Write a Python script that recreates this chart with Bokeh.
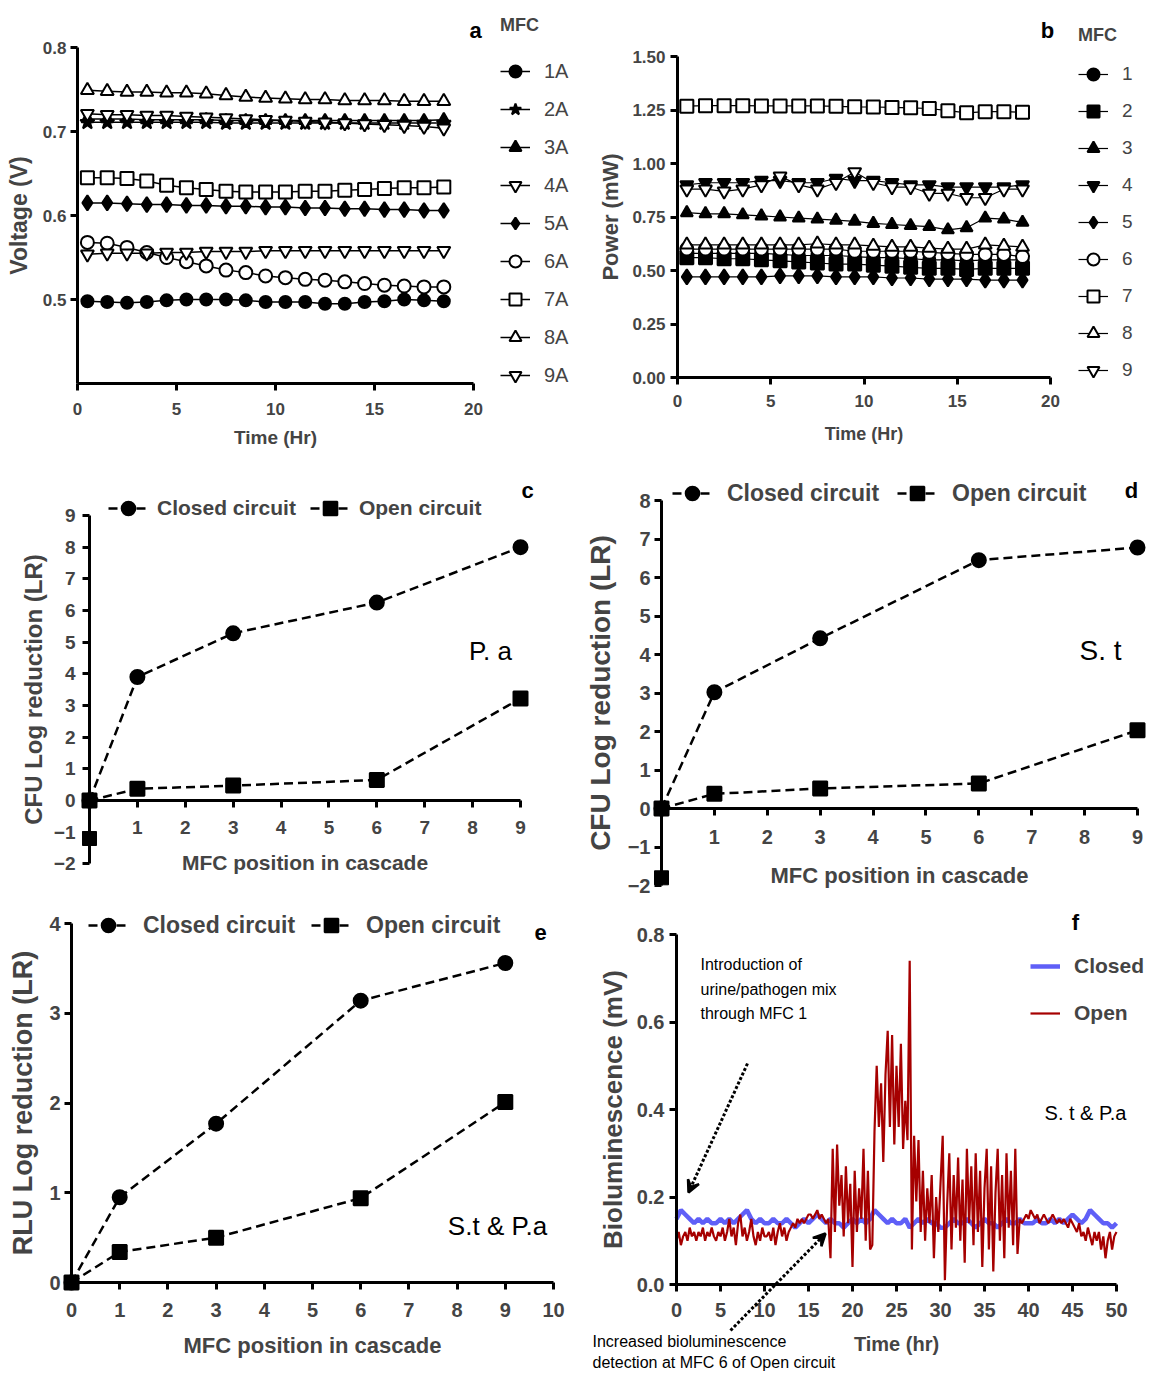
from bokeh.plotting import figure
from bokeh.layouts import column, row
from bokeh.models import (Legend, LegendItem, Label, Arrow, VeeHead, FixedTicker,
                          Range1d, NumeralTickFormatter)
from bokeh.embed import file_html
from bokeh.resources import INLINE

FONT = "Liberation Sans"

# ---------------- data: panel a (voltage) ----------------
time_a = [0.5, 1.5, 2.5, 3.5, 4.5, 5.5, 6.5, 7.5, 8.5, 9.5, 10.5, 11.5, 12.5, 13.5, 14.5, 15.5, 16.5, 17.5, 18.5]
v_1A = [0.498, 0.497, 0.496, 0.497, 0.499, 0.500, 0.500, 0.500, 0.499, 0.497, 0.497, 0.497, 0.495, 0.495, 0.497, 0.498, 0.500, 0.499, 0.498]
v_2A = [0.711, 0.711, 0.711, 0.711, 0.711, 0.711, 0.711, 0.710, 0.710, 0.710, 0.710, 0.710, 0.710, 0.710, 0.710, 0.710, 0.710, 0.710, 0.710]
v_3A = [0.715, 0.715, 0.715, 0.714, 0.714, 0.714, 0.714, 0.713, 0.713, 0.713, 0.713, 0.713, 0.713, 0.713, 0.713, 0.713, 0.713, 0.713, 0.714]
v_4A = [0.721, 0.720, 0.720, 0.719, 0.719, 0.718, 0.717, 0.716, 0.715, 0.714, 0.713, 0.712, 0.711, 0.710, 0.709, 0.708, 0.707, 0.706, 0.704]
v_5A = [0.615, 0.615, 0.614, 0.613, 0.613, 0.612, 0.612, 0.611, 0.611, 0.610, 0.610, 0.609, 0.609, 0.608, 0.608, 0.607, 0.607, 0.606, 0.606]
v_6A = [0.568, 0.567, 0.562, 0.556, 0.550, 0.545, 0.540, 0.535, 0.532, 0.528, 0.526, 0.524, 0.523, 0.521, 0.519, 0.517, 0.516, 0.515, 0.515]
v_7A = [0.645, 0.645, 0.644, 0.641, 0.636, 0.633, 0.631, 0.629, 0.628, 0.628, 0.628, 0.629, 0.629, 0.630, 0.631, 0.632, 0.633, 0.633, 0.634]
v_8A = [0.749, 0.748, 0.747, 0.747, 0.746, 0.746, 0.745, 0.743, 0.741, 0.740, 0.739, 0.738, 0.738, 0.737, 0.737, 0.737, 0.736, 0.736, 0.736]
v_9A = [0.554, 0.555, 0.555, 0.555, 0.556, 0.556, 0.557, 0.557, 0.557, 0.558, 0.558, 0.558, 0.558, 0.558, 0.558, 0.558, 0.558, 0.558, 0.558]
labels_a = ["1A", "2A", "3A", "4A", "5A", "6A", "7A", "8A", "9A"]

# ---------------- data: panel b (power) ----------------
time_b = time_a
p_1 = [0.58, 0.58, 0.58, 0.58, 0.58, 0.575, 0.57, 0.57, 0.57, 0.565, 0.56, 0.56, 0.555, 0.55, 0.55, 0.545, 0.55, 0.55, 0.55]
p_2 = [0.56, 0.56, 0.555, 0.555, 0.55, 0.545, 0.54, 0.535, 0.53, 0.53, 0.525, 0.52, 0.515, 0.51, 0.51, 0.505, 0.51, 0.51, 0.51]
p_3 = [0.77, 0.765, 0.765, 0.76, 0.755, 0.75, 0.745, 0.74, 0.735, 0.73, 0.72, 0.715, 0.71, 0.705, 0.69, 0.70, 0.745, 0.74, 0.725]
p_4 = [0.90, 0.91, 0.91, 0.91, 0.92, 0.92, 0.91, 0.91, 0.93, 0.92, 0.92, 0.91, 0.90, 0.90, 0.89, 0.89, 0.89, 0.89, 0.90]
p_5 = [0.47, 0.47, 0.47, 0.47, 0.47, 0.475, 0.475, 0.475, 0.47, 0.47, 0.47, 0.465, 0.465, 0.46, 0.46, 0.46, 0.455, 0.455, 0.455]
p_6 = [0.60, 0.60, 0.60, 0.60, 0.60, 0.60, 0.60, 0.60, 0.60, 0.59, 0.59, 0.59, 0.59, 0.585, 0.58, 0.575, 0.575, 0.575, 0.565]
p_7 = [1.268, 1.270, 1.270, 1.270, 1.269, 1.269, 1.269, 1.269, 1.267, 1.265, 1.264, 1.262, 1.260, 1.257, 1.247, 1.237, 1.242, 1.242, 1.240]
p_8 = [0.62, 0.62, 0.62, 0.62, 0.62, 0.62, 0.62, 0.625, 0.62, 0.62, 0.615, 0.61, 0.61, 0.605, 0.60, 0.60, 0.62, 0.615, 0.61]
p_9 = [0.88, 0.88, 0.87, 0.88, 0.90, 0.94, 0.90, 0.88, 0.91, 0.96, 0.91, 0.89, 0.89, 0.86, 0.86, 0.84, 0.84, 0.88, 0.88]
labels_b = ["1", "2", "3", "4", "5", "6", "7", "8", "9"]

# ---------------- data: panels c, d, e ----------------
mfc_pos = [0, 1, 3, 6, 9]
c_closed = [0, 3.9, 5.28, 6.25, 8.0]
c_open = [0, 0.37, 0.47, 0.65, 3.22]
c_open_extra_x = [0]
c_open_extra_y = [-1.2]
d_closed = [0, 3.02, 4.42, 6.45, 6.78]
d_open = [0, 0.38, 0.52, 0.65, 2.03]
d_open_extra_x = [0]
d_open_extra_y = [-1.8]
e_closed = [0, 0.95, 1.77, 3.14, 3.56]
e_open = [0, 0.34, 0.50, 0.94, 2.01]
legend_cde = ["Closed circuit", "Open circuit"]

# ---------------- data: panel f (bioluminescence) ----------------
f_closed = [0.15, 0.17, 0.16, 0.15, 0.14, 0.15, 0.14, 0.15, 0.14, 0.14, 0.15, 0.14, 0.15, 0.14, 0.15, 0.16, 0.17, 0.15, 0.14, 0.15, 0.14,
            0.14, 0.15, 0.14, 0.14, 0.15, 0.14, 0.13, 0.14, 0.15, 0.14, 0.15, 0.16, 0.15, 0.14, 0.15, 0.14, 0.14, 0.13, 0.14, 0.15,
            0.14, 0.15, 0.14, 0.15, 0.17, 0.16, 0.15, 0.14, 0.15, 0.14, 0.14, 0.15, 0.13, 0.14, 0.15, 0.14, 0.15, 0.14, 0.14, 0.13,
            0.13, 0.14, 0.15, 0.14, 0.14, 0.15, 0.14, 0.13, 0.14, 0.15, 0.14, 0.14, 0.13, 0.14, 0.15, 0.14, 0.14, 0.15, 0.14, 0.14,
            0.14, 0.15, 0.14, 0.14, 0.15, 0.14, 0.15, 0.14, 0.15, 0.16, 0.15, 0.14, 0.15, 0.17, 0.16, 0.15, 0.14, 0.14, 0.13, 0.14]
f_open = [0.10, 0.12, 0.09, 0.11, 0.12, 0.10, 0.13, 0.11, 0.12, 0.10, 0.12, 0.11, 0.13, 0.10, 0.12, 0.11, 0.13, 0.11, 0.10, 0.12, 0.11,
          0.13, 0.10, 0.12, 0.15, 0.11, 0.13, 0.09, 0.14, 0.16, 0.11, 0.13, 0.10, 0.12, 0.15, 0.11, 0.09, 0.12, 0.10, 0.13, 0.11,
          0.11, 0.12, 0.10, 0.13, 0.09, 0.12, 0.14, 0.11, 0.13, 0.10, 0.12, 0.13, 0.14, 0.13, 0.15, 0.14, 0.15, 0.14, 0.15, 0.16,
          0.16, 0.15, 0.16, 0.17, 0.15, 0.16, 0.15, 0.14, 0.15, 0.06,
          0.31, 0.12, 0.32, 0.18, 0.25, 0.11, 0.27, 0.14, 0.23, 0.04, 0.26, 0.12, 0.22, 0.15, 0.31, 0.10, 0.26, 0.08,
          0.09, 0.35, 0.50, 0.36, 0.46, 0.28, 0.48, 0.58, 0.36, 0.57, 0.32, 0.50, 0.36, 0.55, 0.31, 0.42, 0.33, 0.74, 0.08, 0.34,
          0.19, 0.33, 0.12, 0.26,
          0.10, 0.22, 0.14, 0.25, 0.06, 0.20, 0.12, 0.23, 0.34, 0.01, 0.18, 0.30, 0.08, 0.25, 0.13, 0.29, 0.10, 0.24, 0.05, 0.31,
          0.14, 0.27, 0.09, 0.30, 0.12, 0.26, 0.04, 0.22, 0.31, 0.08, 0.27, 0.03, 0.21, 0.31, 0.10, 0.25, 0.06, 0.30, 0.13, 0.26,
          0.09, 0.31, 0.07, 0.15,
          0.14, 0.15, 0.16, 0.15, 0.17, 0.16, 0.15, 0.16, 0.14, 0.15, 0.16, 0.15, 0.14, 0.15, 0.16, 0.15, 0.14, 0.15, 0.14, 0.15,
          0.14, 0.13, 0.15, 0.14,
          0.13, 0.12, 0.14, 0.11, 0.12, 0.10, 0.13, 0.11, 0.09, 0.12, 0.10, 0.12, 0.08, 0.11, 0.06, 0.10, 0.12, 0.08, 0.11, 0.12]
f_time_closed = [i * 0.5 for i in range(len(f_closed))]
f_time_open = [i * 0.25 for i in range(len(f_open))]


class Panel:
    """A figure whose frame fills the whole canvas; data<->page pixel mapping from two anchors per axis."""
    def __init__(self, w, h, ox, oy, xa, ya):
        self.w, self.h, self.ox, self.oy = w, h, ox, oy
        xv1, xp1, xv2, xp2 = xa
        yv1, yp1, yv2, yp2 = ya
        self.sx = (xp2 - xp1) / (xv2 - xv1)
        self.sy = (yp2 - yp1) / (yv2 - yv1)
        self.xv1, self.xp1, self.yv1, self.yp1 = xv1, xp1, yv1, yp1
        xr = Range1d(self.dx(ox), self.dx(ox + w))
        yr = Range1d(self.dy(oy + h), self.dy(oy))
        self.p = figure(width=w, height=h, x_range=xr, y_range=yr, output_backend="svg",
                        toolbar_location=None, min_border_left=0, min_border_right=0,
                        min_border_top=0, min_border_bottom=0)
        self.p.grid.visible = False
        self.p.outline_line_color = None

    def dx(self, px):
        return self.xv1 + (px - self.xp1) / self.sx

    def dy(self, py):
        return self.yv1 + (py - self.yp1) / self.sy

    def loc(self, left_px, bottom_px):
        return (left_px - self.ox, self.oy + self.h - bottom_px)

    def label(self, px, py, text, size="22px", style="bold", align="center"):
        self.p.add_layout(Label(x=self.dx(px), y=self.dy(py), text=text, text_font=FONT,
                                text_font_size=size, text_font_style=style, text_align=align,
                                text_baseline="middle", text_color="black"))


def style_axis(ax, ticks, bounds, loc, tick_size, title_size, label_standoff, title_standoff, fmt=None):
    ax.ticker = FixedTicker(ticks=ticks)
    ax.bounds = bounds
    ax.fixed_location = loc
    ax.axis_line_width = 3
    ax.major_tick_line_width = 3
    ax.major_tick_out = 7
    ax.major_tick_in = 0
    ax.minor_tick_line_color = None
    ax.major_label_text_font = FONT
    ax.major_label_text_font_style = "bold"
    ax.major_label_text_font_size = f"{tick_size}px"
    ax.major_label_standoff = label_standoff
    ax.axis_label_text_font = FONT
    ax.axis_label_text_font_style = "bold"
    ax.axis_label_text_font_size = f"{title_size}px"
    ax.axis_label_standoff = title_standoff
    if fmt:
        ax.formatter = NumeralTickFormatter(format=fmt)


def series(p, x, y, marker, fill, size, dash="solid", lw=1.5, mlw=2):
    r1 = p.line(x, y, line_color="black", line_width=lw, line_dash=dash)
    r2 = p.scatter(x, y, marker=marker, size=size, fill_color=fill, line_color="black", line_width=mlw)
    return [r1, r2]


marker_specs = [("circle", "black", 12), ("star", "black", 15), ("triangle", "black", 12),
                ("inverted_triangle", "white", 13), ("diamond", "black", 15), ("circle", "white", 13),
                ("square", "white", 13), ("triangle", "white", 13), ("inverted_triangle", "white", 13)]


def mfc_legend(items, loc, title_standoff, spacing, label_size):
    return Legend(items=items, location=loc, title="MFC", title_text_font=FONT,
                  title_text_font_style="bold", title_text_font_size="18px",
                  title_standoff=title_standoff, glyph_width=30, glyph_height=30, label_height=30,
                  spacing=spacing, padding=0, margin=0, label_standoff=14, label_text_font=FONT,
                  label_text_font_size=label_size, border_line_color=None, background_fill_alpha=0)


W_L, W_R = 578, 570
H1, H2, H3 = 460, 436, 476

# ---------------- panel a ----------------
A = Panel(W_L, H1, 0, 0, (0, 77, 20, 473), (0.8, 47, 0.5, 299))
pa = A.p
style_axis(pa.xaxis[0], [0, 5, 10, 15, 20], (0, 20), 0.4, 17, 19, 12, 9)
style_axis(pa.yaxis[0], [0.5, 0.6, 0.7, 0.8], (0.4, 0.8), 0, 17, 23, 4, 8, fmt="0.0")
pa.xaxis.axis_label = "Time (Hr)"
pa.yaxis.axis_label = "Voltage (V)"
items = []
for lab, vals, (mk, fill, sz) in zip(labels_a, [v_1A, v_2A, v_3A, v_4A, v_5A, v_6A, v_7A, v_8A, v_9A], marker_specs):
    items.append(LegendItem(label=lab, renderers=series(pa, time_a, vals, mk, fill, sz)))
pa.add_layout(mfc_legend(items, A.loc(500, 390), 20, 8, "20px"))
A.label(475, 30, "a")

# ---------------- panel b ----------------
B = Panel(W_R, H1, W_L, 0, (0, 677, 20, 1050), (1.5, 56, 0, 377))
pb = B.p
style_axis(pb.xaxis[0], [0, 5, 10, 15, 20], (0, 20), 0, 17, 18, 10, 14)
style_axis(pb.yaxis[0], [0, 0.25, 0.5, 0.75, 1.0, 1.25, 1.5], (0, 1.5), 0, 17, 22, 5, 6, fmt="0.00")
pb.xaxis.axis_label = "Time (Hr)"
pb.yaxis.axis_label = "Power (mW)"
items = []
for lab, vals, (mk, fill, sz) in zip(labels_b, [p_1, p_2, p_3, p_4, p_5, p_6, p_7, p_8, p_9], marker_specs):
    if mk == "star":
        mk, sz = "square", 13
    if lab == "4":
        fill = "black"
    items.append(LegendItem(label=lab, renderers=series(pb, time_b, vals, mk, fill, sz, lw=1.2)))
pb.add_layout(mfc_legend(items, B.loc(1078, 385), 13, 7, "19px"))
B.label(1047, 30, "b")


def cascade_panel(P, xticks, yticks, xb, yb, closed, opened, extra, tick_size, xtitle_size,
                  ytitle_size, stand, leg_loc, leg_size, leg_standoff, leg_spacing, ylabel):
    p = P.p
    style_axis(p.xaxis[0], xticks, xb, 0, tick_size, xtitle_size, stand[0], stand[1])
    style_axis(p.yaxis[0], yticks, yb, 0, tick_size, ytitle_size, stand[2], stand[3])
    p.xaxis.axis_label = "MFC position in cascade"
    p.yaxis.axis_label = ylabel
    rc = series(p, mfc_pos, closed, "circle", "black", 14, dash="9 5", lw=2.5)
    ro = series(p, mfc_pos, opened, "square", "black", 14, dash="9 5", lw=2.5)
    if extra is not None:
        p.scatter(extra[0], extra[1], marker="square", size=14, fill_color="black", line_color="black")
    leg = Legend(items=[LegendItem(label=legend_cde[0], renderers=rc),
                        LegendItem(label=legend_cde[1], renderers=ro)],
                 location=leg_loc, orientation="horizontal", glyph_width=40, glyph_height=34,
                 label_height=34, spacing=leg_spacing, padding=0, margin=0, label_standoff=leg_standoff,
                 label_text_font=FONT, label_text_font_style="bold", label_text_font_size=leg_size,
                 border_line_color=None, background_fill_alpha=0)
    p.add_layout(leg)


C = Panel(W_L, H2, 0, H1, (0, 89, 9, 520), (9, 515, 0, 800))
cascade_panel(C, [1, 2, 3, 4, 5, 6, 7, 8, 9], list(range(-2, 10)), (0, 9), (-2, 9),
              c_closed, c_open, (c_open_extra_x, c_open_extra_y), 19, 21, 24, (13, 14, 7, 4),
              C.loc(108, 525), "21px", 9, 14, "CFU Log reduction (LR)")
C.label(527, 490, "c")
C.label(490, 650, "P. a", size="26px", style="normal")

D = Panel(W_R, H2, W_L, H1, (0, 661, 9, 1137), (8, 500, 0, 808))
cascade_panel(D, [1, 2, 3, 4, 5, 6, 7, 8, 9], list(range(-2, 9)), (0, 9), (-2, 8),
              d_closed, d_open, (d_open_extra_x, d_open_extra_y), 20, 22, 28, (14, 16, 4, 9),
              D.loc(672, 510), "23px", 15, 18, "CFU Log reduction (LR)")
D.label(1131, 490, "d")
D.label(1100, 650, "S. t", size="28px", style="normal")

E = Panel(W_L, H3, 0, H1 + H2, (0, 71, 10, 553), (4, 923, 0, 1282))
cascade_panel(E, list(range(0, 11)), [0, 1, 2, 3, 4], (0, 10), (0, 4),
              e_closed, e_open, None, 20, 22, 27, (13, 13, 4, 8),
              E.loc(88, 942), "23px", 15, 16, "RLU Log reduction (LR)")
E.label(540, 932, "e")
E.label(497, 1225, "S.t & P.a", size="26px", style="normal")

# ---------------- panel f ----------------
F = Panel(W_R, H3, W_L, H1 + H2, (0, 676, 50, 1116), (0.8, 934, 0, 1284))
pf = F.p
style_axis(pf.xaxis[0], list(range(0, 51, 5)), (0, 50), 0, 20, 20, 11, 13)
style_axis(pf.yaxis[0], [0, 0.2, 0.4, 0.6, 0.8], (0, 0.8), 0, 20, 26, 5, 6, fmt="0.0")
pf.xaxis.axis_label = "Time (hr)"
pf.yaxis.axis_label = "Bioluminescence (mV)"
r_closed = pf.line(f_time_closed, f_closed, line_color="#5F5FF7", line_width=4.5)
r_open = pf.line(f_time_open, f_open, line_color="#A60000", line_width=2.2)
leg_f = Legend(items=[LegendItem(label="Closed", renderers=[r_closed]),
                      LegendItem(label="Open", renderers=[r_open])],
               location=F.loc(1030, 1025), glyph_width=30, glyph_height=24, label_height=24, spacing=23,
               padding=0, margin=0, label_standoff=14, label_text_font=FONT,
               label_text_font_style="bold", label_text_font_size="21px",
               border_line_color=None, background_fill_alpha=0)
pf.add_layout(leg_f)
F.label(1075, 922, "f")
F.label(1085, 1112, "S. t & P.a", size="20px", style="normal")
for txt, py in [("Introduction of", 964), ("urine/pathogen mix", 989), ("through MFC 1", 1013)]:
    F.label(700, py, txt, size="16px", style="normal", align="left")
for txt, py in [("Increased bioluminescence", 1341), ("detection at MFC 6 of Open circuit", 1362)]:
    F.label(592, py, txt, size="16px", style="normal", align="left")
pf.add_layout(Arrow(end=VeeHead(size=12, line_width=2.5, line_color="black"),
                    x_start=F.dx(747), y_start=F.dy(1063), x_end=F.dx(688), y_end=F.dy(1192),
                    line_width=3, line_dash="3 2", line_color="black"))
pf.add_layout(Arrow(end=VeeHead(size=12, line_width=2.5, line_color="black"),
                    x_start=F.dx(730), y_start=F.dy(1330), x_end=F.dx(825), y_end=F.dy(1233),
                    line_width=3, line_dash="3 2", line_color="black"))

layout = column(row(pa, pb), row(C.p, D.p), row(E.p, pf))
open("out.html", "w").write(file_html(layout, INLINE))
